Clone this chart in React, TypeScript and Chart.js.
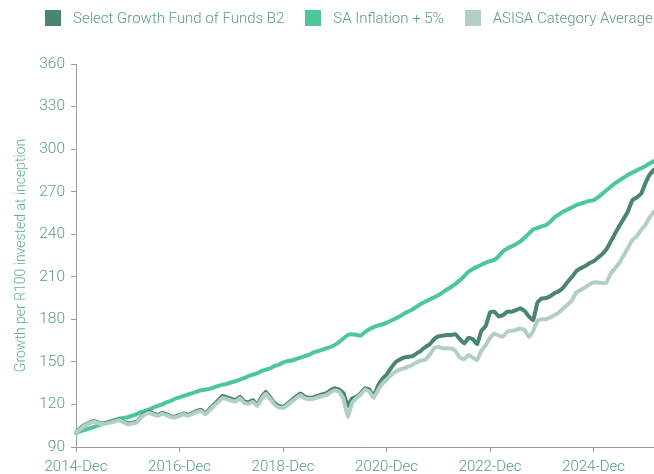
import React, { useEffect, useRef } from 'react';
import { Chart, registerables } from 'chart.js';

Chart.register(...registerables);

const MONTH_NAMES = ['Jan', 'Feb', 'Mar', 'Apr', 'May', 'Jun', 'Jul', 'Aug', 'Sep', 'Oct', 'Nov', 'Dec'];
const START_YEAR = 2014;
const START_MONTH_INDEX = 11; // December
const TICK_EVERY = 24;

const SERIES_NAMES = ['Select Growth Fund of Funds B2', 'SA Inflation + 5%', 'ASISA Category Average'];

const fundValues = [
  100, 103, 105.5, 107, 108.3, 107.5, 106.5, 107, 107.8, 108.5, 109.5, 108,
  106.7, 107, 107.8, 111, 113.7, 114.9, 113.5, 112.6, 114.2, 113, 111.8, 111.4,
  112.5, 113.7, 112.6, 114, 115.5, 116.1, 113.7, 117, 120, 123, 126, 125,
  124, 123.1, 125.5, 122, 121.5, 123, 119.6, 125, 129, 125, 121, 119,
  118.4, 120.5, 123, 125.5, 127.8, 125.5, 124.8, 125, 126, 127, 127.8, 130,
  131.4, 130.5, 128, 119, 124.3, 125.5, 128, 131.4, 130.5, 126, 133, 138,
  141, 145.5, 149.5, 151.5, 153, 153.5, 154, 156, 158, 160.5, 162.5, 166,
  168, 168.5, 169, 169, 169.5, 166, 163, 167, 166, 162.6, 172, 175.3,
  185, 185.4, 182, 183, 185.4, 185.4, 186.5, 187.8, 186, 182, 179.5, 192,
  194.8, 195, 196.5, 198.5, 200, 202.5, 206.5, 210, 214, 216, 217.5, 219.5,
  221, 223.5, 226, 229.5, 235, 240.6, 246, 251, 256.5, 264, 266, 268.5,
  275.9, 282, 285.5,
];

const inflationValues = [
  100, 101, 102, 103, 104, 105, 106, 107, 108, 109, 110, 110.5,
  111, 112, 113, 114.5, 115.5, 116.5, 118, 119, 120, 121.5, 122.5, 124,
  125, 126, 127, 128, 129, 130, 130.5, 131, 132, 133, 134, 134.5,
  135.5, 136.5, 137.5, 138.5, 140, 141, 142, 143.5, 144.5, 145.5, 147, 148,
  149.5, 150.5, 151, 152, 153, 154, 155, 156.5, 157.5, 158.5, 159.5, 160.5,
  162, 164, 166.5, 169, 169.5, 169, 168.5, 171, 173, 174.5, 175.5, 176.5,
  177.5, 179, 180.5, 182, 184, 185.5, 187, 189, 191, 192.5, 194, 195.5,
  197, 199, 201, 203, 205, 207.5, 210.5, 213.5, 215.5, 217, 218.5, 220,
  221, 222, 224.5, 228, 230, 231.5, 233, 235, 237.5, 240.5, 243.5, 244.5,
  245.5, 246.5, 249, 252, 254, 256, 257.5, 259, 260.5, 261.5, 262.5, 263.5,
  264, 266, 268.5, 271, 273.5, 276, 278, 280, 282, 283.5, 285, 286.5,
  288, 290, 291.5,
];

const asisaValues = [
  100, 102.5, 105, 106.5, 108, 107, 106, 106.5, 107.2, 108, 109, 107.5,
  106, 106.5, 107.2, 110.5, 113, 114, 112.8, 112, 113.5, 112.3, 111.2, 110.8,
  112, 113, 112, 113.3, 114.8, 115.3, 113, 116, 119, 121.8, 124.5, 123.8,
  122.8, 122, 124.3, 121, 120.5, 121.8, 118.8, 123.8, 127.5, 124, 120, 118,
  117.5, 119.5, 122, 124.3, 126.5, 124.5, 123.8, 124, 125, 125.8, 126.5, 128.5,
  130, 129, 124, 111.4, 121, 124.5, 127, 130.5, 129, 124.5, 130, 134.5,
  137.5, 140.5, 143, 144.5, 145.5, 146.6, 148, 149.8, 151, 151.5, 155, 159.5,
  160.7, 159.6, 159.6, 159.5, 157.5, 153, 152, 154.9, 153, 151.3, 158, 161.9,
  167, 170.1, 168.5, 168, 171.3, 172, 172.5, 173.6, 172.5, 167.5, 172, 179,
  180, 180, 181.5, 183, 185, 187.8, 190.5, 193.6, 199, 200.7, 202.5, 204.5,
  206, 206, 205.5, 206, 212.4, 216, 220, 225.4, 230.5, 236, 238.5, 243,
  246.5, 252, 256,
];

const Y_MIN = 90;
const Y_MAX = 360;
const Y_STEP = 30;
const Y_TITLE = 'Growth per R100 invested at inception';

const categoryLabels = fundValues.map((_, i) => {
  const t = START_MONTH_INDEX + i;
  return `${START_YEAR + Math.floor(t / 12)}-${MONTH_NAMES[t % 12]}`;
});

const COLORS = ['#4a8571', '#4cc898', '#b3cfc4'];
const TEXT_COLOR = '#5a9c82';
const AXIS_COLOR = '#9a9a9a';
const FONT = 'Roboto, "Noto Sans", sans-serif';

export default function App() {
  const canvasRef = useRef<HTMLCanvasElement | null>(null);

  useEffect(() => {
    const canvas = canvasRef.current;
    if (!canvas) return;
    const chart = new Chart(canvas, {
      type: 'line',
      data: {
        labels: categoryLabels,
        datasets: [
          {
            label: SERIES_NAMES[0],
            data: fundValues,
            borderColor: COLORS[0],
            backgroundColor: COLORS[0],
            order: 1,
          },
          {
            label: SERIES_NAMES[1],
            data: inflationValues,
            borderColor: COLORS[1],
            backgroundColor: COLORS[1],
            order: 2,
          },
          {
            label: SERIES_NAMES[2],
            data: asisaValues,
            borderColor: COLORS[2],
            backgroundColor: COLORS[2],
            order: 0,
          },
        ],
      },
      options: {
        animation: false,
        responsive: false,
        maintainAspectRatio: false,
        layout: { padding: { top: 64, right: 0, left: 0, bottom: 0 } },
        elements: {
          point: { radius: 0, hoverRadius: 0 },
          line: { borderWidth: 4, tension: 0.1, borderJoinStyle: 'round', borderCapStyle: 'round', fill: false },
        },
        plugins: {
          legend: { display: false },
          tooltip: { enabled: false },
        },
        scales: {
          x: {
            type: 'category',
            offset: false,
            afterFit: (scale: any) => {
              scale.height = 27;
            },
            grid: {
              drawOnChartArea: false,
              drawTicks: true,
              tickLength: 5,
              color: AXIS_COLOR,
            },
            border: { color: AXIS_COLOR, width: 1 },
            ticks: {
              autoSkip: false,
              maxRotation: 0,
              minRotation: 0,
              padding: 6,
              color: TEXT_COLOR,
              font: { family: FONT, size: 15, weight: 300 },
              callback: (_v: any, index: number) =>
                index % TICK_EVERY === 0 ? categoryLabels[index] : null,
            },
          },
          y: {
            min: Y_MIN,
            max: Y_MAX,
            afterFit: (scale: any) => {
              scale.width = 76;
            },
            grid: {
              drawOnChartArea: false,
              drawTicks: true,
              tickLength: 5,
              color: AXIS_COLOR,
            },
            border: { color: AXIS_COLOR, width: 1 },
            ticks: {
              stepSize: Y_STEP,
              padding: 6,
              color: TEXT_COLOR,
              font: { family: FONT, size: 15.5, weight: 300 },
            },
            title: {
              display: true,
              text: Y_TITLE,
              color: '#5fb090',
              font: { family: FONT, size: 14, weight: 300 },
              padding: { top: 13, bottom: 0 },
            },
          },
        },
      },
    });
    return () => chart.destroy();
  }, []);

  return (
    <div style={{ position: 'absolute', left: 0, top: 0, width: 654, height: 474, overflow: 'hidden', background: '#fff' }}>
      <canvas ref={canvasRef} width={654} height={474} style={{ display: 'block', width: 654, height: 474 }} />
      <div
        style={{
          position: 'absolute',
          left: 45,
          top: 10,
          display: 'flex',
          alignItems: 'center',
          whiteSpace: 'nowrap',
          fontFamily: FONT,
          fontWeight: 300,
          fontSize: 15,
          color: TEXT_COLOR,
          height: 16,
        }}
      >
        {SERIES_NAMES.map((name, i) => (
          <div key={name} style={{ display: 'flex', alignItems: 'center', marginRight: 21 }}>
            <span style={{ display: 'inline-block', width: 16, height: 16, background: COLORS[i], marginRight: 12 }} />
            <span style={{ lineHeight: '16px' }}>{name}</span>
          </div>
        ))}
      </div>
    </div>
  );
}
